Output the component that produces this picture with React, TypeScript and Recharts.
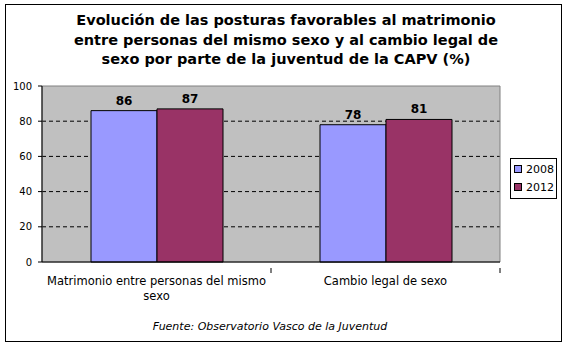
import { BarChart, Bar, XAxis, YAxis, CartesianGrid, LabelList, ReferenceArea } from "recharts";

const categories = ["Matrimonio entre personas del mismo sexo", "Cambio legal de sexo"];
const categoryLines = [["Matrimonio entre personas del mismo", "sexo"], ["Cambio legal de sexo"]];
const values2008 = [86, 78];
const values2012 = [87, 81];
const yTicks = [0, 20, 40, 60, 80, 100];
const seriesNames = ["2008", "2012"];
const seriesColors = ["#9999FF", "#993366"];

const data = categories.map((name, i) => ({
  name,
  y2008: values2008[i],
  y2012: values2012[i],
}));

const font = "'DejaVu Sans', Verdana, sans-serif";

function CategoryTick(props: any) {
  const { x, y, index } = props;
  const lines = categoryLines[index] || [];
  return (
    <g>
      <line x1={x + 114.5} x2={x + 114.5} y1={y - 2} y2={y + 3} stroke="#000" />
      <text x={x} y={y + 15} textAnchor="middle" fontSize={11.5} fontFamily={font} fill="#000">
        {lines.map((l: string, k: number) => (
          <tspan key={k} x={x} dy={k === 0 ? 0 : 15}>
            {l}
          </tspan>
        ))}
      </text>
    </g>
  );
}

function LegendBox() {
  return (
    <div
      style={{
        position: "absolute",
        left: 510,
        top: 158,
        border: "1px solid #000",
        background: "#fff",
        width: 45,
        height: 38,
        fontFamily: font,
        fontSize: 11,
        paddingTop: 1,
      }}
    >
      {seriesNames.map((label, i) => (
        <div key={label} style={{ display: "flex", alignItems: "center", height: 18, paddingLeft: 3 }}>
          <span
            style={{
              display: "inline-block",
              width: 6,
              height: 6,
              background: seriesColors[i],
              border: "1px solid #000",
              marginRight: 4,
            }}
          />
          <span>{label}</span>
        </div>
      ))}
    </div>
  );
}

export default function App() {
  return (
    <div style={{ position: "absolute", left: 0, top: 0, width: 568, height: 352, background: "#fff" }}>
      <div
        style={{
          position: "absolute",
          left: 5,
          top: 4,
          width: 555,
          height: 336,
          border: "1px solid #000",
        }}
      />
      <div
        style={{
          position: "absolute",
          left: 0,
          top: 11,
          width: 568,
          textAlign: "center",
          fontFamily: font,
          fontWeight: "bold",
          fontSize: 14.5,
          lineHeight: "19.5px",
          paddingLeft: 2,
        }}
      >
        Evolución de las posturas favorables al matrimonio
        <br />
        entre personas del mismo sexo y al cambio legal de
        <br />
        sexo por parte de la juventud de la CAPV (%)
      </div>
      <div style={{ position: "absolute", left: 0, top: 0 }}>
        <BarChart
          width={568}
          height={352}
          data={data}
          margin={{ top: 86, right: 68, left: 0, bottom: 50 }}
          barGap={0}
          barSize={66}
        >
          <CartesianGrid
            vertical={false}
            fill="#C0C0C0"
            fillOpacity={1}
            stroke="#000"
            strokeDasharray="4 3"
            horizontalValues={[20, 40, 60, 80]}
          />
          <ReferenceArea y1={0} y2={100} fill="none" stroke="#808080" ifOverflow="visible" />
          <XAxis
            dataKey="name"
            height={40}
            axisLine={{ stroke: "#000" }}
            tickLine={false}
            tick={<CategoryTick />}
            interval={0}
          />
          <YAxis
            width={42}
            domain={[0, 100]}
            ticks={yTicks}
            axisLine={{ stroke: "#000" }}
            tickLine={{ stroke: "#000" }}
            tickSize={4}
            tickMargin={6}
            tick={{ fontSize: 10, fontFamily: font, fill: "#000" }}
          />
          <Bar dataKey="y2008" name={seriesNames[0]} fill={seriesColors[0]} stroke="#000" strokeWidth={1} isAnimationActive={false}>
            <LabelList dataKey="y2008" position="top" offset={6} fontSize={12} fontWeight="bold" fontFamily={font} fill="#000" />
          </Bar>
          <Bar dataKey="y2012" name={seriesNames[1]} fill={seriesColors[1]} stroke="#000" strokeWidth={1} isAnimationActive={false}>
            <LabelList dataKey="y2012" position="top" offset={6} fontSize={12} fontWeight="bold" fontFamily={font} fill="#000" />
          </Bar>
        </BarChart>
      </div>
      <LegendBox />
      <div
        style={{
          position: "absolute",
          left: 0,
          top: 320,
          width: 540,
          textAlign: "center",
          fontFamily: font,
          fontStyle: "italic",
          fontSize: 11,
        }}
      >
        Fuente: Observatorio Vasco de la Juventud
      </div>
    </div>
  );
}
